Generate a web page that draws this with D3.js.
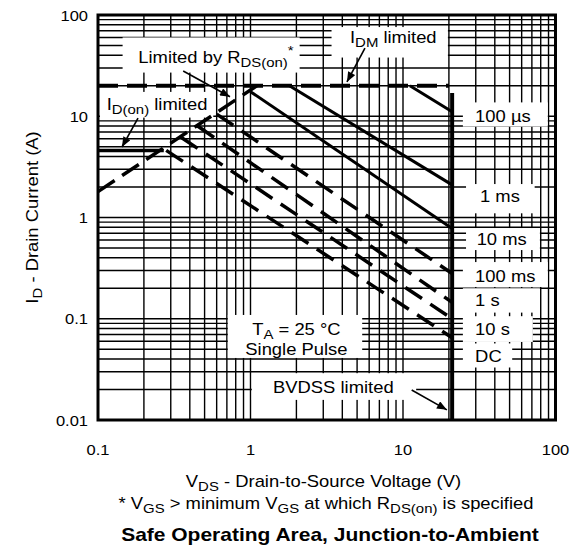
<!DOCTYPE html>
<html><head><meta charset="utf-8">
<script src="https://cdn.jsdelivr.net/npm/d3@7"></script>
<style>body{margin:0;background:#fff}text{font-family:"Liberation Sans",Arial,Helvetica,sans-serif;fill:#000}</style>
</head><body>
<svg id="c" width="574" height="547"></svg>
<script>
// ---- axes ----
const xDomain = [0.1, 100];
const yDomain = [0.01, 100];
const xTickValues = [0.1, 1, 10, 100];
const xTickLabels = ["0.1", "1", "10", "100"];
const yTickValues = [0.01, 0.1, 1, 10, 100];
const yTickLabels = ["0.01", "0.1", "1", "10", "100"];

// ---- limit lines: [VDS (V), ID (A)] ----
const rdsLimit = [[0.1, 1.8], [1.1, 20]];
const idmLimit = [[0.1, 20], [20, 20]];
const idonLimit = [[0.1, 4.6], [0.27, 4.6]];
const bvdssLimit = [[21, 0.01], [21, 17]];

// ---- pulse-width SOA lines ----
const pulseNames = ["100 µs", "1 ms", "10 ms", "100 ms", "1 s", "10 s", "DC"];
const pulseStart = [[11.1, 20], [1.8, 20], [1.0, 17.5], [0.6, 10.5], [0.45, 8], [0.35, 6.2], [0.28, 4.6]];
const pulseEnd = [[21, 11.1], [21, 2.1], [21, 0.78], [21, 0.28], [21, 0.145], [21, 0.1], [21, 0.065]];
const pulseDashed = [false, false, false, true, true, true, true];
const pulseLabelAt = [[29.7, 8.84], [32, 1.43], [30.4, 0.535], [29.7, 0.232], [29.7, 0.134], [29.7, 0.0691], [29.7, 0.0377]];
const pulseLabelBox = [[24.7, 89, 7.9, 13.7], [25.9, 73, 1.1, 2.14], [25.9, 79, 0.477, 0.787], [24.7, 89, 0.206, 0.363], [24.7, 79, 0.115, 0.2], [24.7, 71, 0.059, 0.106], [24.7, 52, 0.033, 0.057]];

// ---- annotations ----
const noteBoxes = [[0.145, 2.1, 27, 60], [3.4, 19.7, 38, 76], [0.103, 0.57, 9.7, 17.4], [0.71, 5.4, 0.041, 0.109], [1.02, 12.2, 0.0158, 0.029]];
const notes = [
  {at: [0.1837, 33.4], anchor: "start", parts: [["Limited by R"], ["DS(on)", "sub"], ["*", "sup"]]},
  {at: [4.49, 52.5], anchor: "start", parts: [["I"], ["DM", "sub"], [" limited"]]},
  {at: [0.114, 11.5], anchor: "start", parts: [["I"], ["D(on)", "sub"], [" limited"]]},
  {at: [2.0, 0.069], anchor: "middle", parts: [["T"], ["A", "sub"], [" = 25 °C"]]},
  {at: [2.0, 0.0435], anchor: "middle", parts: [["Single Pulse"]]},
  {at: [1.405, 0.0184], anchor: "start", parts: [["BVDSS limited"]]}
];
const arrows = [
  [[0.362, 28], [0.734, 15.6]],
  [[0.183, 9.6], [0.1436, 4.97]],
  [[5.63, 47.2], [4.29, 21.8]],
  [[11.4, 0.0198], [19.4, 0.0126]]
];

const svg = d3.select("#c");
const x = d3.scaleLog().domain(xDomain).range([98, 555.5]);
const y = d3.scaleLog().domain(yDomain).range([420, 15]);
const SX = 1.15;

function stext(parent, px, py, anchor, size, weight, parts, sx) {
  const g = parent.append("g").attr("transform", `translate(${px},${py}) scale(${sx},1)`);
  const t = g.append("text").attr("text-anchor", anchor).attr("font-size", size).attr("font-weight", weight || "normal");
  let cur = 0;
  parts.forEach(p => {
    const kind = p[1] || "";
    const off = kind === "sub" ? 4 : kind === "sup" ? -8 : 0;
    const ts = t.append("tspan").text(p[0]);
    if (kind) ts.attr("font-size", 13);
    if (off !== cur) ts.attr("dy", off - cur);
    cur = off;
  });
  return g;
}

// grid
const grid = svg.append("g").attr("stroke", "#000").attr("stroke-width", 1.4);
grid.selectAll(".vx").data(x.ticks()).join("line")
  .attr("x1", d => x(d)).attr("x2", d => x(d)).attr("y1", y(yDomain[0])).attr("y2", y(yDomain[1]));
grid.selectAll(".hy").data(y.ticks()).join("line")
  .attr("y1", d => y(d)).attr("y2", d => y(d)).attr("x1", x(xDomain[0])).attr("x2", x(xDomain[1]));

// white label boxes
const boxes = noteBoxes.concat(pulseLabelBox);
svg.append("g").selectAll("rect").data(boxes).join("rect")
  .attr("fill", "#fff")
  .attr("x", d => x(d[0])).attr("width", d => x(d[1]) - x(d[0]))
  .attr("y", d => y(d[3])).attr("height", d => y(d[2]) - y(d[3]));

const line = d3.line().x(d => x(d[0])).y(d => y(d[1]));
const marks = svg.append("g").attr("fill", "none").attr("stroke", "#000");
marks.append("path").datum(idmLimit).attr("d", line).attr("stroke-width", 4).attr("stroke-dasharray", "20,9");
marks.append("path").datum(rdsLimit).attr("d", line).attr("stroke-width", 3.5).attr("stroke-dasharray", "20,9");
marks.append("path").datum(idonLimit).attr("d", line).attr("stroke-width", 3.5);
marks.selectAll(".pl").data(pulseNames.map((n, i) => [pulseStart[i], pulseEnd[i], pulseDashed[i]])).join("path")
  .attr("d", d => line([d[0], d[1]]))
  .attr("stroke-width", d => d[2] ? 3.5 : 3)
  .attr("stroke-dasharray", d => d[2] ? "20,10" : null);
marks.append("path").datum(bvdssLimit).attr("d", line).attr("stroke-width", 4);

// frame
svg.append("rect").attr("x", x(xDomain[0])).attr("y", y(yDomain[1]))
  .attr("width", x(xDomain[1]) - x(xDomain[0])).attr("height", y(yDomain[0]) - y(yDomain[1]))
  .attr("fill", "none").attr("stroke", "#000").attr("stroke-width", 3);

// arrows
svg.append("defs").append("marker").attr("id", "ah").attr("viewBox", "0 0 10 8")
  .attr("refX", 10).attr("refY", 4).attr("markerWidth", 11).attr("markerHeight", 8)
  .attr("markerUnits", "userSpaceOnUse").attr("orient", "auto")
  .append("path").attr("d", "M0,0 L10,4 L0,8 Z").attr("fill", "#000");
svg.append("g").selectAll("line").data(arrows).join("line")
  .attr("x1", d => x(d[0][0])).attr("y1", d => y(d[0][1]))
  .attr("x2", d => x(d[1][0])).attr("y2", d => y(d[1][1]))
  .attr("stroke", "#000").attr("stroke-width", 1.6).attr("marker-end", "url(#ah)");

// notes
const tg = svg.append("g");
notes.forEach(n => stext(tg, x(n.at[0]), y(n.at[1]), n.anchor, 16, "normal", n.parts, SX));
pulseNames.forEach((n, i) => stext(tg, x(pulseLabelAt[i][0]), y(pulseLabelAt[i][1]), "start", 16, "normal", [[n]], SX));

// tick labels
xTickValues.forEach((v, i) => stext(tg, x(v), 455, "middle", 15, "normal", [[xTickLabels[i]]], 1.1));
yTickValues.forEach((v, i) => stext(tg, 88, y(v) + 5.5, "end", 15, "normal", [[yTickLabels[i]]], 1.1));

// axis titles
stext(tg, 323.5, 487, "middle", 16, "normal", [["V"], ["DS", "sub"], [" - Drain-to-Source Voltage (V)"]], SX);
stext(tg, 326, 509, "middle", 16, "normal", [["* V"], ["GS", "sub"], [" > minimum V"], ["GS", "sub"], [" at which R"], ["DS(on)", "sub"], [" is specified"]], SX);
stext(tg, 330, 541, "middle", 17.5, "bold", [["Safe Operating Area, Junction-to-Ambient"]], 1.2);
const yt = tg.append("g").attr("transform", "translate(37.5,217.5) rotate(-90)");
stext(yt, 0, 0, "middle", 16, "normal", [["I"], ["D", "sub"], [" - Drain Current (A)"]], SX);
</script>
</body></html>
